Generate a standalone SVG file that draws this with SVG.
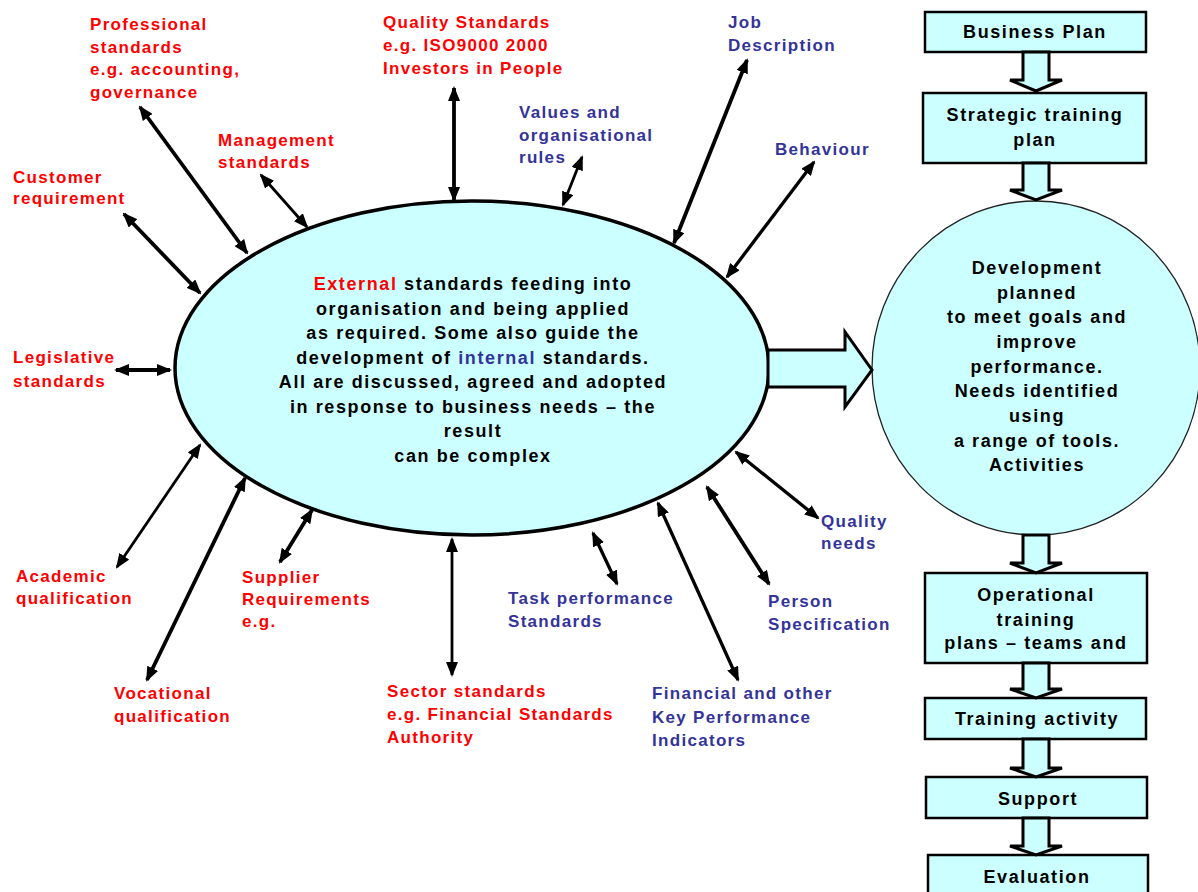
<svg xmlns="http://www.w3.org/2000/svg" width="1198" height="892" viewBox="0 0 1198 892">
<style>
text{font-family:"Liberation Sans",Arial,sans-serif;font-weight:bold}
.lbl{font-size:17px;letter-spacing:1.3px}
.red{fill:#ff0000}
.blue{fill:#333399}
.body{font-size:18px;letter-spacing:1.6px;fill:#000;text-anchor:middle}
.box{fill:#ccffff;stroke:#000;stroke-width:2.5}
.blk{fill:#ccffff;stroke:#000;stroke-width:3;stroke-linejoin:miter}
.con{stroke:#000;fill:none;marker-start:url(#ah);marker-end:url(#ah)}
</style>
<defs>
<marker id="ah" viewBox="0 0 15 12" refX="13" refY="6" markerWidth="15" markerHeight="12" markerUnits="userSpaceOnUse" orient="auto-start-reverse"><path d="M0,0 L15,6 L0,12 z" fill="#000"/></marker>
</defs>
<rect width="1198" height="892" fill="#fff"/>

<g id="circle-node">
<ellipse cx="1036" cy="368" rx="164" ry="167" fill="#ccffff" stroke="#222" stroke-width="1.3"/>
<text class="body" x="1037"><tspan x="1037" y="274">Development</tspan><tspan x="1037" y="299">planned</tspan><tspan x="1037" y="323">to meet goals and</tspan><tspan x="1037" y="348">improve</tspan><tspan x="1037" y="373">performance.</tspan><tspan x="1037" y="397">Needs identified</tspan><tspan x="1037" y="422">using</tspan><tspan x="1037" y="447">a range of tools.</tspan><tspan x="1037" y="471">Activities</tspan></text>
</g>

<g id="main-ellipse">
<ellipse cx="472" cy="368" rx="297" ry="167" fill="#ccffff" stroke="#000" stroke-width="3.5"/>
<text class="body" x="473"><tspan x="473" y="290"><tspan class="red">External</tspan> standards feeding into</tspan><tspan x="473" y="315">organisation and being applied</tspan><tspan x="473" y="339">as required. Some also guide the</tspan><tspan x="473" y="364">development of <tspan class="blue">internal</tspan> standards.</tspan><tspan x="473" y="388">All are discussed, agreed and adopted</tspan><tspan x="473" y="413">in response to business needs – the</tspan><tspan x="473" y="437">result</tspan><tspan x="473" y="462">can be complex</tspan></text>
</g>

<g id="big-arrow">
<polygon class="blk" points="768,350 845,350 845,332 872,370 845,407 845,387 768,387"/>
</g>

<g id="business-plan">
<rect class="box" x="925" y="12" width="221" height="40"/>
<text class="body" x="1035" y="38">Business Plan</text>
</g>
<g id="strategic-plan">
<rect class="box" x="923" y="93" width="223" height="70"/>
<text class="body" x="1035"><tspan x="1035" y="121">Strategic training</tspan><tspan x="1035" y="146">plan</tspan></text>
</g>
<g id="operational-plans">
<rect class="box" x="925" y="573" width="222" height="90"/>
<text class="body" x="1036"><tspan x="1036" y="601">Operational</tspan><tspan x="1036" y="626">training</tspan><tspan x="1036" y="649">plans – teams and</tspan></text>
</g>
<g id="training-activity">
<rect class="box" x="925" y="698" width="221" height="41"/>
<text class="body" x="1037" y="725">Training activity</text>
</g>
<g id="support">
<rect class="box" x="926" y="777" width="221" height="41"/>
<text class="body" x="1038" y="805">Support</text>
</g>
<g id="evaluation">
<rect class="box" x="928" y="855" width="220" height="45"/>
<text class="body" x="1037" y="883">Evaluation</text>
</g>

<g id="flow-arrows">
<polygon class="blk" points="1023,52 1049,52 1049,80 1062,80 1036,91 1010,80 1023,80"/>
<polygon class="blk" points="1023,163 1049,163 1049,190 1062,190 1036,200 1010,190 1023,190"/>
<polygon class="blk" points="1023,535 1049,535 1049,563 1062,563 1036,573 1010,563 1023,563"/>
<polygon class="blk" points="1023,663 1049,663 1049,689 1062,689 1036,698 1010,689 1023,689"/>
<polygon class="blk" points="1023,739 1049,739 1049,768 1062,768 1036,777 1010,768 1023,768"/>
<polygon class="blk" points="1023,818 1049,818 1049,846 1062,846 1036,855 1010,846 1023,846"/>
</g>

<g id="connectors">
<path class="con" stroke-width="3.8" d="M140,107 L247,253"/>
<path class="con" stroke-width="2.8" d="M261,175 L307,227"/>
<path class="con" stroke-width="3.8" d="M124,214 L200,293"/>
<path class="con" stroke-width="3.8" d="M454,88 L454,200"/>
<path class="con" stroke-width="2.8" d="M582,157 L563,205"/>
<path class="con" stroke-width="3.8" d="M747,60 L674,243"/>
<path class="con" stroke-width="3.3" d="M814,162 L727,277"/>
<path class="con" stroke-width="3.8" d="M116,370 L170,370"/>
<path class="con" stroke-width="2.8" d="M117,567 L200,445"/>
<path class="con" stroke-width="3.8" d="M147,680 L245,478"/>
<path class="con" stroke-width="3.8" d="M280,562 L312,510"/>
<path class="con" stroke-width="2.8" d="M452,675 L452,539"/>
<path class="con" stroke-width="3.3" d="M617,584 L593,533"/>
<path class="con" stroke-width="3.3" d="M738,680 L658,503"/>
<path class="con" stroke-width="3.8" d="M769,584 L707,487"/>
<path class="con" stroke-width="3.3" d="M818,518 L736,452"/>
</g>

<g id="label-professional"><text class="lbl red"><tspan x="90" y="30">Professional</tspan><tspan x="90" y="53">standards</tspan><tspan x="90" y="75">e.g. accounting,</tspan><tspan x="90" y="98">governance</tspan></text></g>
<g id="label-management"><text class="lbl red"><tspan x="218" y="146">Management</tspan><tspan x="218" y="168">standards</tspan></text></g>
<g id="label-customer"><text class="lbl red"><tspan x="13" y="183">Customer</tspan><tspan x="13" y="204">requirement</tspan></text></g>
<g id="label-quality-standards"><text class="lbl red"><tspan x="383" y="28">Quality Standards</tspan><tspan x="383" y="51">e.g. ISO9000 2000</tspan><tspan x="383" y="74">Investors in People</tspan></text></g>
<g id="label-values"><text class="lbl blue"><tspan x="519" y="118">Values and</tspan><tspan x="519" y="141">organisational</tspan><tspan x="519" y="163">rules</tspan></text></g>
<g id="label-job"><text class="lbl blue"><tspan x="728" y="28">Job</tspan><tspan x="728" y="51">Description</tspan></text></g>
<g id="label-behaviour"><text class="lbl blue" x="775" y="155">Behaviour</text></g>
<g id="label-legislative"><text class="lbl red"><tspan x="13" y="363">Legislative</tspan><tspan x="13" y="387">standards</tspan></text></g>
<g id="label-academic"><text class="lbl red"><tspan x="16" y="582">Academic</tspan><tspan x="16" y="604">qualification</tspan></text></g>
<g id="label-vocational"><text class="lbl red"><tspan x="114" y="699">Vocational</tspan><tspan x="114" y="722">qualification</tspan></text></g>
<g id="label-supplier"><text class="lbl red"><tspan x="242" y="583">Supplier</tspan><tspan x="242" y="605">Requirements</tspan><tspan x="242" y="627">e.g.</tspan></text></g>
<g id="label-sector"><text class="lbl red"><tspan x="387" y="697">Sector standards</tspan><tspan x="387" y="720">e.g. Financial Standards</tspan><tspan x="387" y="743">Authority</tspan></text></g>
<g id="label-task"><text class="lbl blue"><tspan x="508" y="604">Task performance</tspan><tspan x="508" y="627">Standards</tspan></text></g>
<g id="label-financial"><text class="lbl blue"><tspan x="652" y="699">Financial and other</tspan><tspan x="652" y="723">Key Performance</tspan><tspan x="652" y="746">Indicators</tspan></text></g>
<g id="label-person"><text class="lbl blue"><tspan x="768" y="607">Person</tspan><tspan x="768" y="630">Specification</tspan></text></g>
<g id="label-quality-needs"><text class="lbl blue"><tspan x="821" y="527">Quality</tspan><tspan x="821" y="549">needs</tspan></text></g>
</svg>
